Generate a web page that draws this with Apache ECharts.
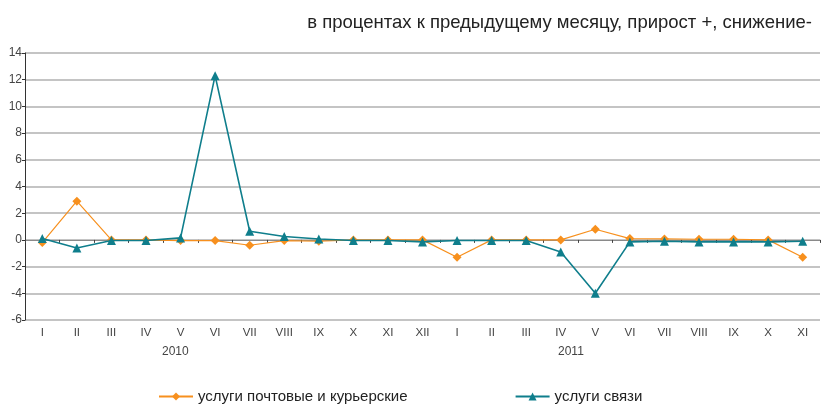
<!DOCTYPE html>
<html>
<head>
<meta charset="utf-8">
<script src="https://cdn.jsdelivr.net/npm/echarts@6/dist/echarts.min.js"></script>
<style>
  html, body { margin: 0; padding: 0; background: #fff; }
  #chart { width: 824px; height: 406px; }
</style>
</head>
<body>
<div id="chart"></div>
<script>
// Months (Roman numerals), 2010 I..XII then 2011 I..XI
const months = ['I','II','III','IV','V','VI','VII','VIII','IX','X','XI','XII',
                'I','II','III','IV','V','VI','VII','VIII','IX','X','XI'];
const years = ['2010', '2011'];

// Month-over-month change, %
const postal = [-0.2, 2.9, 0, 0, -0.05, -0.05, -0.4, -0.05, -0.1, 0, 0, 0,
                -1.3, 0, 0, 0, 0.8, 0.1, 0.07, 0.05, 0.05, 0, -1.3];
const telecom = [0.1, -0.6, -0.05, -0.05, 0.15, 12.3, 0.65, 0.25, 0.07, -0.05, -0.05, -0.15,
                 -0.05, -0.05, -0.05, -0.9, -4.0, -0.15, -0.1, -0.15, -0.15, -0.15, -0.1];

const seriesNames = ['услуги почтовые и курьерские', 'услуги связи'];
const subtitle = 'в процентах к предыдущему месяцу, прирост +, снижение-';

const FONT = '"Liberation Sans", Arial, sans-serif';
const ORANGE = '#f7901e';
const TEAL = '#0f7e8c';
const LABEL = '#444';

const chart = echarts.init(document.getElementById('chart'), null, { renderer: 'canvas' });

chart.setOption({
  animation: false,
  backgroundColor: '#ffffff',
  textStyle: { fontFamily: FONT },
  title: {
    text: subtitle,
    right: 7,
    top: 8,
    textStyle: { fontFamily: FONT, fontSize: 18.5, fontWeight: 'normal', color: '#222' }
  },
  grid: { left: 25, right: 4, top: 53, bottom: 86, containLabel: false },
  legend: {
    data: seriesNames,
    left: 153,
    top: 384,
    itemWidth: 34,
    itemHeight: 10,
    itemGap: 107,
    textStyle: { fontFamily: FONT, fontSize: 15, color: '#222' }
  },
  xAxis: [
    {
      type: 'category',
      data: months,
      position: 'bottom',
      axisLine: { show: false, onZero: false },
      axisTick: { show: false },
      axisLabel: { fontFamily: FONT, fontSize: 11.5, color: LABEL, margin: 7 },
      splitLine: { show: false }
    },
    {
      type: 'category',
      data: months,
      position: 'bottom',
      axisLine: { show: true, onZero: true, lineStyle: { color: '#8a8a8a', width: 1 } },
      axisTick: { show: true, length: 3, lineStyle: { color: '#444' } },
      axisLabel: { show: false },
      splitLine: { show: false }
    }
  ],
  yAxis: {
    type: 'value',
    min: -6,
    max: 14,
    interval: 2,
    axisLine: { show: true, lineStyle: { color: '#333', width: 1 } },
    axisTick: { show: true, length: 3, lineStyle: { color: '#333' } },
    axisLabel: { fontFamily: FONT, fontSize: 12, color: LABEL, margin: 3 },
    splitLine: { show: true, lineStyle: { color: '#c4c4c4', width: 2 } }
  },
  graphic: [
    { type: 'text', left: 162, top: 346, style: { text: years[0], font: '12px ' + FONT, fill: LABEL } },
    { type: 'text', left: 558, top: 346, style: { text: years[1], font: '12px ' + FONT, fill: LABEL } }
  ],
  series: [
    {
      name: seriesNames[0],
      type: 'line',
      data: postal,
      xAxisIndex: 0,
      symbol: 'diamond',
      symbolSize: 9,
      itemStyle: { color: ORANGE },
      lineStyle: { color: ORANGE, width: 1.2 },
      z: 3
    },
    {
      name: seriesNames[1],
      type: 'line',
      data: telecom,
      xAxisIndex: 0,
      symbol: 'triangle',
      symbolSize: 9,
      itemStyle: { color: TEAL },
      lineStyle: { color: TEAL, width: 1.6 },
      z: 4
    }
  ]
});
</script>
</body>
</html>
